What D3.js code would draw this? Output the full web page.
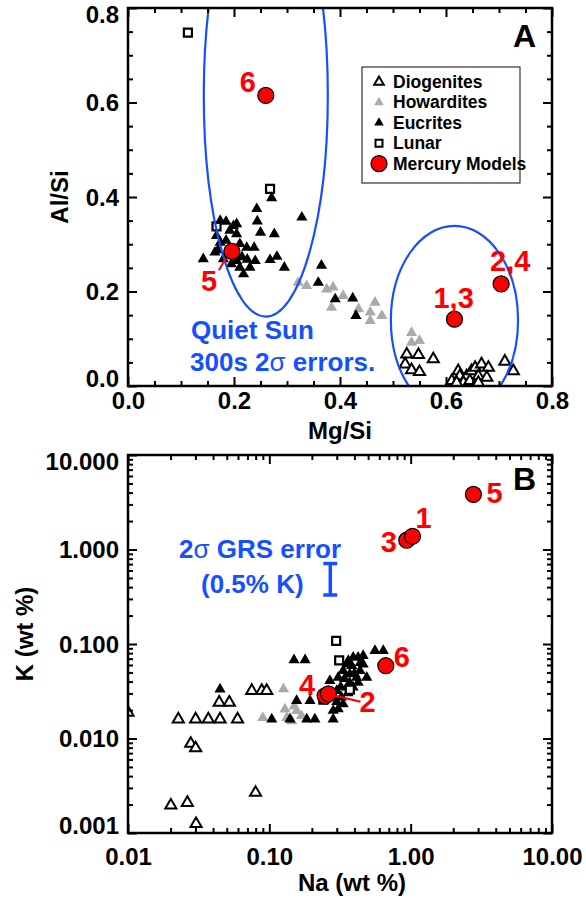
<!DOCTYPE html>
<html lang="en">
<head>
<meta charset="UTF-8">
<title>Mg/Si Al/Si and Na K</title>
<script src="https://cdn.jsdelivr.net/npm/d3@7"></script>
<style>
  body { margin: 0; background: #fff; }
  text { font-family: "Liberation Sans", Arial, sans-serif; font-weight: bold; }
  .axis path { display: none; }
  .axis line { stroke: #000; stroke-width: 2; }
  .frame { fill: none; stroke: #000; stroke-width: 2.5; }
  .blue { fill: #1450ff; }
  .red { fill: #ff0000; }
</style>
</head>
<body>
<svg id="chart" width="586" height="899"></svg>
<script>
// ---- panel A data : [Mg/Si, Al/Si]
var diogenitesA = [[0.526,0.069],[0.548,0.068],[0.576,0.059],[0.523,0.048],[0.535,0.036],[0.550,0.032],
  [0.711,0.054],[0.727,0.034],[0.611,0.013],[0.623,0.034],[0.626,0.023],[0.639,0.023],[0.633,0.009],
  [0.648,0.034],[0.655,0.041],[0.667,0.048],[0.680,0.041],[0.661,0.023],[0.677,0.020],[0.645,0.013],
  [0.661,0.009],[0.620,0.009]];
var howarditesA = [[0.321,0.221],[0.337,0.214],[0.375,0.207],[0.387,0.211],[0.406,0.193],[0.384,0.168],
  [0.435,0.165],[0.466,0.179],[0.457,0.158],[0.479,0.151],[0.457,0.140],[0.535,0.115],[0.550,0.098],[0.535,0.094]];
var eucritesA = [[0.243,0.377],[0.244,0.351],[0.250,0.327],[0.276,0.324],[0.328,0.359],[0.238,0.295],
  [0.268,0.269],[0.281,0.276],[0.295,0.253],[0.142,0.271],[0.164,0.285],[0.174,0.352],[0.199,0.341],
  [0.192,0.331],[0.205,0.324],[0.211,0.303],[0.224,0.295],[0.174,0.306],[0.180,0.271],[0.205,0.267],
  [0.211,0.253],[0.230,0.253],[0.240,0.267],[0.218,0.239],[0.189,0.285],[0.167,0.320],[0.365,0.257],
  [0.359,0.221],[0.391,0.186],[0.424,0.188],[0.430,0.151],[0.271,0.400],[0.185,0.310],[0.200,0.290],
  [0.215,0.275],[0.195,0.260],[0.225,0.270],[0.170,0.290],[0.205,0.345],[0.185,0.350]];
var lunarA = [[0.113,0.748],[0.268,0.417],[0.167,0.338]];
var mercuryA = [{id:"6", v:[0.260,0.615]},{id:"5", v:[0.196,0.285]},
  {id:"1,3", v:[0.616,0.1415]},{id:"2,4", v:[0.704,0.216]}];
// 2 sigma error ellipses: centre, half widths
var ellipsesA = [{c:[0.260,0.615], r:[0.117,0.468]},{c:[0.616,0.139], r:[0.12,0.20]}];

// ---- panel B data : [Na wt%, K wt%]
var diogenitesB = [[0.0100,0.0193],[0.0227,0.0164],[0.0301,0.0164],[0.0370,0.0164],[0.0448,0.0164],
  [0.0596,0.0164],[0.0442,0.0246],[0.0521,0.0246],[0.0751,0.0328],[0.0884,0.0328],[0.0958,0.0328],
  [0.0278,0.00905],[0.0301,0.0081],[0.0201,0.00201],[0.0263,0.00214],[0.0303,0.00128],[0.0799,0.00274]];
var howarditesB = [[0.0898,0.0170],[0.126,0.0342],[0.129,0.0209],[0.133,0.0170],[0.156,0.0201],
  [0.169,0.0178],[0.144,0.0157],[0.150,0.0225]];
var eucritesB = [[0.0448,0.0341],[0.1495,0.0693],[0.179,0.0693],[0.156,0.0257],[0.194,0.0257],
  [0.104,0.0164],[0.140,0.0164],[0.184,0.0164],[0.210,0.0164],[0.283,0.0164],[0.283,0.0202],
  [0.307,0.0210],[0.268,0.0418],[0.307,0.0454],[0.333,0.0534],[0.362,0.0682],[0.392,0.0740],
  [0.425,0.0740],[0.461,0.0771],[0.371,0.0494],[0.415,0.0454],[0.438,0.0534],[0.354,0.0356],
  [0.392,0.0356],[0.324,0.0280],[0.300,0.0328],[0.333,0.0237],[0.559,0.0870],[0.640,0.0870],
  [0.461,0.0627],[0.489,0.0454],[0.425,0.0401],[0.383,0.0604],[0.354,0.0627],[0.340,0.0440],
  [0.370,0.0400],[0.400,0.0500],[0.360,0.0310],[0.320,0.0360],[0.440,0.0650],[0.300,0.0250]];
var lunarB = [[0.297,0.108],[0.312,0.0670],[0.371,0.0328],[0.241,0.0257]];
var mercuryB = [{id:"3", v:[0.938,1.255]},{id:"1", v:[1.03,1.38]},{id:"4", v:[0.248,0.0283]},
  {id:"2", v:[0.262,0.0297]},{id:"5", v:[2.78,3.83]},{id:"6", v:[0.667,0.0589]}];
var grsError = {na:0.27, lo:0.33, hi:0.71};

// ---- ticks
var ticksA = [0, 0.2, 0.4, 0.6, 0.8];
var tickLabelsA = ["0.0", "0.2", "0.4", "0.6", "0.8"];
var minorA = [0.05,0.1,0.15,0.25,0.3,0.35,0.45,0.5,0.55,0.65,0.7,0.75];
var xTicksB = [0.01, 0.1, 1, 10];
var xTickLabelsB = ["0.01", "0.10", "1.00", "10.00"];
var yTicksB = [0.001, 0.01, 0.1, 1, 10];
var yTickLabelsB = ["0.001", "0.010", "0.100", "1.000", "10.000"];

// label placement (pixels from the model circle)
var labelPosA = {"6":[-26,-3], "5":[-31,40], "1,3":[-21,-11], "2,4":[-11,-13]};
var labelPosB = {"5":[13,9], "1":[3,-8], "3":[-26,12], "6":[8,1], "4":[-26,-1], "2":[31,18]};

var svg = d3.select("#chart");
var L = 128, R = 552;

var xA = d3.scaleLinear().domain([0, 0.8]).range([L, R]);
var yA = d3.scaleLinear().domain([0, 0.8]).range([386, 8]);
var xB = d3.scaleLog().domain([0.01, 10]).range([L, R]);
var yB = d3.scaleLog().domain([0.001, 10]).range([833, 455]);

function logMinor(lo, hi) {
  var out = [];
  for (var e = lo; e < hi; e++)
    for (var m = 2; m <= 9; m++) out.push(m * Math.pow(10, e));
  return out;
}

function drawFrame(x, y, xt, xl, yt, yl, xMinor, yMinor, xPad) {
  var top = y.range()[1], bot = y.range()[0];
  var g = svg.append("g");
  function lab(ticks, labels) { return function(d) { return labels[ticks.indexOf(d)]; }; }

  g.append("g").attr("class", "axis").attr("transform", "translate(0," + bot + ")")
    .call(d3.axisBottom(x).tickValues(xt).tickSizeInner(-9).tickSizeOuter(0).tickPadding(xPad).tickFormat(lab(xt, xl)))
    .selectAll("text").attr("font-size", 24).attr("fill", "#000");
  g.append("g").attr("class", "axis").attr("transform", "translate(0," + bot + ")")
    .call(d3.axisBottom(x).tickValues(xMinor).tickSizeInner(-5).tickSizeOuter(0).tickFormat(""));
  g.append("g").attr("class", "axis").attr("transform", "translate(0," + top + ")")
    .call(d3.axisTop(x).tickValues(xt).tickSizeInner(-9).tickSizeOuter(0).tickFormat(""));
  g.append("g").attr("class", "axis").attr("transform", "translate(0," + top + ")")
    .call(d3.axisTop(x).tickValues(xMinor).tickSizeInner(-5).tickSizeOuter(0).tickFormat(""));

  var ly = g.append("g").attr("class", "axis").attr("transform", "translate(" + L + ",0)")
    .call(d3.axisLeft(y).tickValues(yt).tickSizeInner(-9).tickSizeOuter(0).tickPadding(9).tickFormat(lab(yt, yl)));
  ly.selectAll("text").attr("font-size", 24).attr("fill", "#000")
    .attr("dy", function(d, i) { return i === 0 ? "0.02em" : (i === yt.length - 1 ? "0.62em" : "0.35em"); });
  g.append("g").attr("class", "axis").attr("transform", "translate(" + L + ",0)")
    .call(d3.axisLeft(y).tickValues(yMinor).tickSizeInner(-5).tickSizeOuter(0).tickFormat(""));
  g.append("g").attr("class", "axis").attr("transform", "translate(" + R + ",0)")
    .call(d3.axisRight(y).tickValues(yt).tickSizeInner(-9).tickSizeOuter(0).tickFormat(""));
  g.append("g").attr("class", "axis").attr("transform", "translate(" + R + ",0)")
    .call(d3.axisRight(y).tickValues(yMinor).tickSizeInner(-5).tickSizeOuter(0).tickFormat(""));

  g.append("rect").attr("class", "frame")
    .attr("x", L).attr("y", top).attr("width", R - L).attr("height", bot - top);
}

var tri = d3.symbol(d3.symbolTriangle, 54)();
var sq = d3.symbol(d3.symbolSquare, 64)();

function addClip(id, y) {
  svg.append("clipPath").attr("id", id).append("rect")
    .attr("x", L).attr("y", y.range()[1]).attr("width", R - L).attr("height", y.range()[0] - y.range()[1]);
}

function drawSet(g, data, x, y, shape, fill, stroke, sw) {
  g.selectAll(null).data(data).enter().append("path")
    .attr("d", shape)
    .attr("transform", function(d) { return "translate(" + x(d[0]) + "," + (y(d[1]) + (shape === tri ? 1 : 0)) + ")"; })
    .attr("fill", fill).attr("stroke", stroke).attr("stroke-width", sw);
}

function drawMercury(data, x, y, pos) {
  var g = svg.append("g");
  g.selectAll("circle").data(data).enter().append("circle")
    .attr("cx", function(d) { return x(d.v[0]); })
    .attr("cy", function(d) { return y(d.v[1]); })
    .attr("r", 8).attr("fill", "#ff0000").attr("stroke", "#000").attr("stroke-width", 1.2);
  g.selectAll("text").data(data).enter().append("text")
    .attr("class", "red").attr("font-size", 29)
    .attr("x", function(d) { return x(d.v[0]) + pos[d.id][0]; })
    .attr("y", function(d) { return y(d.v[1]) + pos[d.id][1]; })
    .text(function(d) { return d.id; });
  return g;
}

// ================= Panel A =================
addClip("clipA", yA);
var pa = svg.append("g").attr("clip-path", "url(#clipA)");
drawSet(pa, lunarA, xA, yA, sq, "#fff", "#000", 2.2);
drawSet(pa, diogenitesA, xA, yA, tri, "#fff", "#000", 2);
drawSet(pa, howarditesA, xA, yA, tri, "#aaaaaa", "none", 0);
drawSet(pa, eucritesA, xA, yA, tri, "#000", "none", 0);

pa.selectAll("ellipse").data(ellipsesA).enter().append("ellipse")
  .attr("cx", function(d) { return xA(d.c[0]); })
  .attr("cy", function(d) { return yA(d.c[1]); })
  .attr("rx", function(d) { return xA(d.c[0] + d.r[0]) - xA(d.c[0]); })
  .attr("ry", function(d) { return yA(d.c[1]) - yA(d.c[1] + d.r[1]); })
  .attr("fill", "none").attr("stroke", "#1450ff").attr("stroke-width", 2.2);

drawFrame(xA, yA, ticksA, tickLabelsA, ticksA, tickLabelsA, minorA, minorA, 6);

// leader for model 5
var m5 = mercuryA[1].v;
svg.append("line").attr("x1", xA(m5[0]) - 6).attr("y1", yA(m5[1]) + 7)
  .attr("x2", xA(m5[0]) - 13).attr("y2", yA(m5[1]) + 19)
  .attr("stroke", "#ff0000").attr("stroke-width", 2);
drawMercury(mercuryA, xA, yA, labelPosA);

var qs = svg.append("g").attr("class", "blue").attr("font-size", 26);
qs.append("text").attr("x", 191).attr("y", 339).text("Quiet Sun");
var qs2 = qs.append("text").attr("x", 190).attr("y", 371);
qs2.append("tspan").text("300s 2");
qs2.append("tspan").attr("font-weight", "normal").text("σ");
qs2.append("tspan").text(" errors.");

svg.append("text").attr("x", 513).attr("y", 47).attr("font-size", 32).text("A");

svg.append("text").attr("font-size", 24)
  .attr("transform", "translate(68," + ((yA.range()[0] + yA.range()[1]) / 2) + ") rotate(-90)")
  .attr("text-anchor", "middle").text("Al/Si");
svg.append("text").attr("font-size", 24).attr("x", (L + R) / 2).attr("y", 439)
  .attr("text-anchor", "middle").text("Mg/Si");

// legend
var legendItems = [
  {name:"Diogenites", shape:"tri", fill:"#fff", stroke:"#000"},
  {name:"Howardites", shape:"tri", fill:"#aaaaaa", stroke:"none"},
  {name:"Eucrites", shape:"tri", fill:"#000", stroke:"none"},
  {name:"Lunar", shape:"sq", fill:"#fff", stroke:"#000"},
  {name:"Mercury Models", shape:"circle", fill:"#ff0000", stroke:"#000"}
];
var lg = svg.append("g").attr("transform", "translate(362,67)");
lg.append("rect").attr("width", 158).attr("height", 116).attr("fill", "#fff")
  .attr("stroke", "#333").attr("stroke-width", 1.2);
var li = lg.selectAll("g.li").data(legendItems).enter().append("g")
  .attr("transform", function(d, i) { return "translate(17," + (15 + i * 20.4) + ")"; });
li.each(function(d) {
  var s = d3.select(this);
  if (d.shape === "circle") {
    s.append("circle").attr("r", 8).attr("fill", d.fill).attr("stroke", d.stroke).attr("stroke-width", 1.2);
  } else {
    s.append("path").attr("d", d.shape === "tri" ? d3.symbol(d3.symbolTriangle, 40)() : d3.symbol(d3.symbolSquare, 49)())
      .attr("fill", d.fill).attr("stroke", d.stroke).attr("stroke-width", 2);
  }
});
li.append("text").attr("x", 14).attr("y", 6).attr("font-size", 17.5).text(function(d) { return d.name; });

// ================= Panel B =================
addClip("clipB", yB);
var pb = svg.append("g").attr("clip-path", "url(#clipB)");
drawSet(pb, diogenitesB, xB, yB, tri, "#fff", "#000", 2);
drawSet(pb, howarditesB, xB, yB, tri, "#aaaaaa", "none", 0);
drawSet(pb, eucritesB, xB, yB, tri, "#000", "none", 0);
drawSet(pb, lunarB, xB, yB, sq, "#fff", "#000", 2.2);

drawFrame(xB, yB, xTicksB, xTickLabelsB, yTicksB, yTickLabelsB, logMinor(-2, 1), logMinor(-3, 1), 15);

var m2 = mercuryB[3].v;
var mg = drawMercury(mercuryB, xB, yB, labelPosB);
mg.insert("line", "text").attr("x1", xB(m2[0]) + 3).attr("y1", yB(m2[1]) + 1)
  .attr("x2", xB(m2[0]) + 32).attr("y2", yB(m2[1]) + 8)
  .attr("stroke", "#ff0000").attr("stroke-width", 2);

svg.append("text").attr("x", 513).attr("y", 490).attr("font-size", 32).text("B");

// GRS error bar
var eb = svg.append("g").attr("stroke", "#1450ff").attr("stroke-width", 3.5);
var ex = xB(grsError.na);
eb.append("line").attr("x1", ex).attr("x2", ex).attr("y1", yB(grsError.lo)).attr("y2", yB(grsError.hi));
eb.append("line").attr("x1", ex - 7).attr("x2", ex + 7).attr("y1", yB(grsError.lo)).attr("y2", yB(grsError.lo));
eb.append("line").attr("x1", ex - 7).attr("x2", ex + 7).attr("y1", yB(grsError.hi)).attr("y2", yB(grsError.hi));

var gt = svg.append("g").attr("class", "blue").attr("font-size", 26);
var g1 = gt.append("text").attr("x", 179).attr("y", 558);
g1.append("tspan").text("2");
g1.append("tspan").attr("font-weight", "normal").text("σ");
g1.append("tspan").text(" GRS error");
gt.append("text").attr("x", 201).attr("y", 593).text("(0.5% K)");

svg.append("text").attr("font-size", 24)
  .attr("transform", "translate(33,634) rotate(-90)")
  .attr("text-anchor", "middle").text("K (wt %)");
svg.append("text").attr("font-size", 24).attr("x", 352).attr("y", 891)
  .attr("text-anchor", "middle").text("Na (wt %)");
</script>
</body>
</html>
